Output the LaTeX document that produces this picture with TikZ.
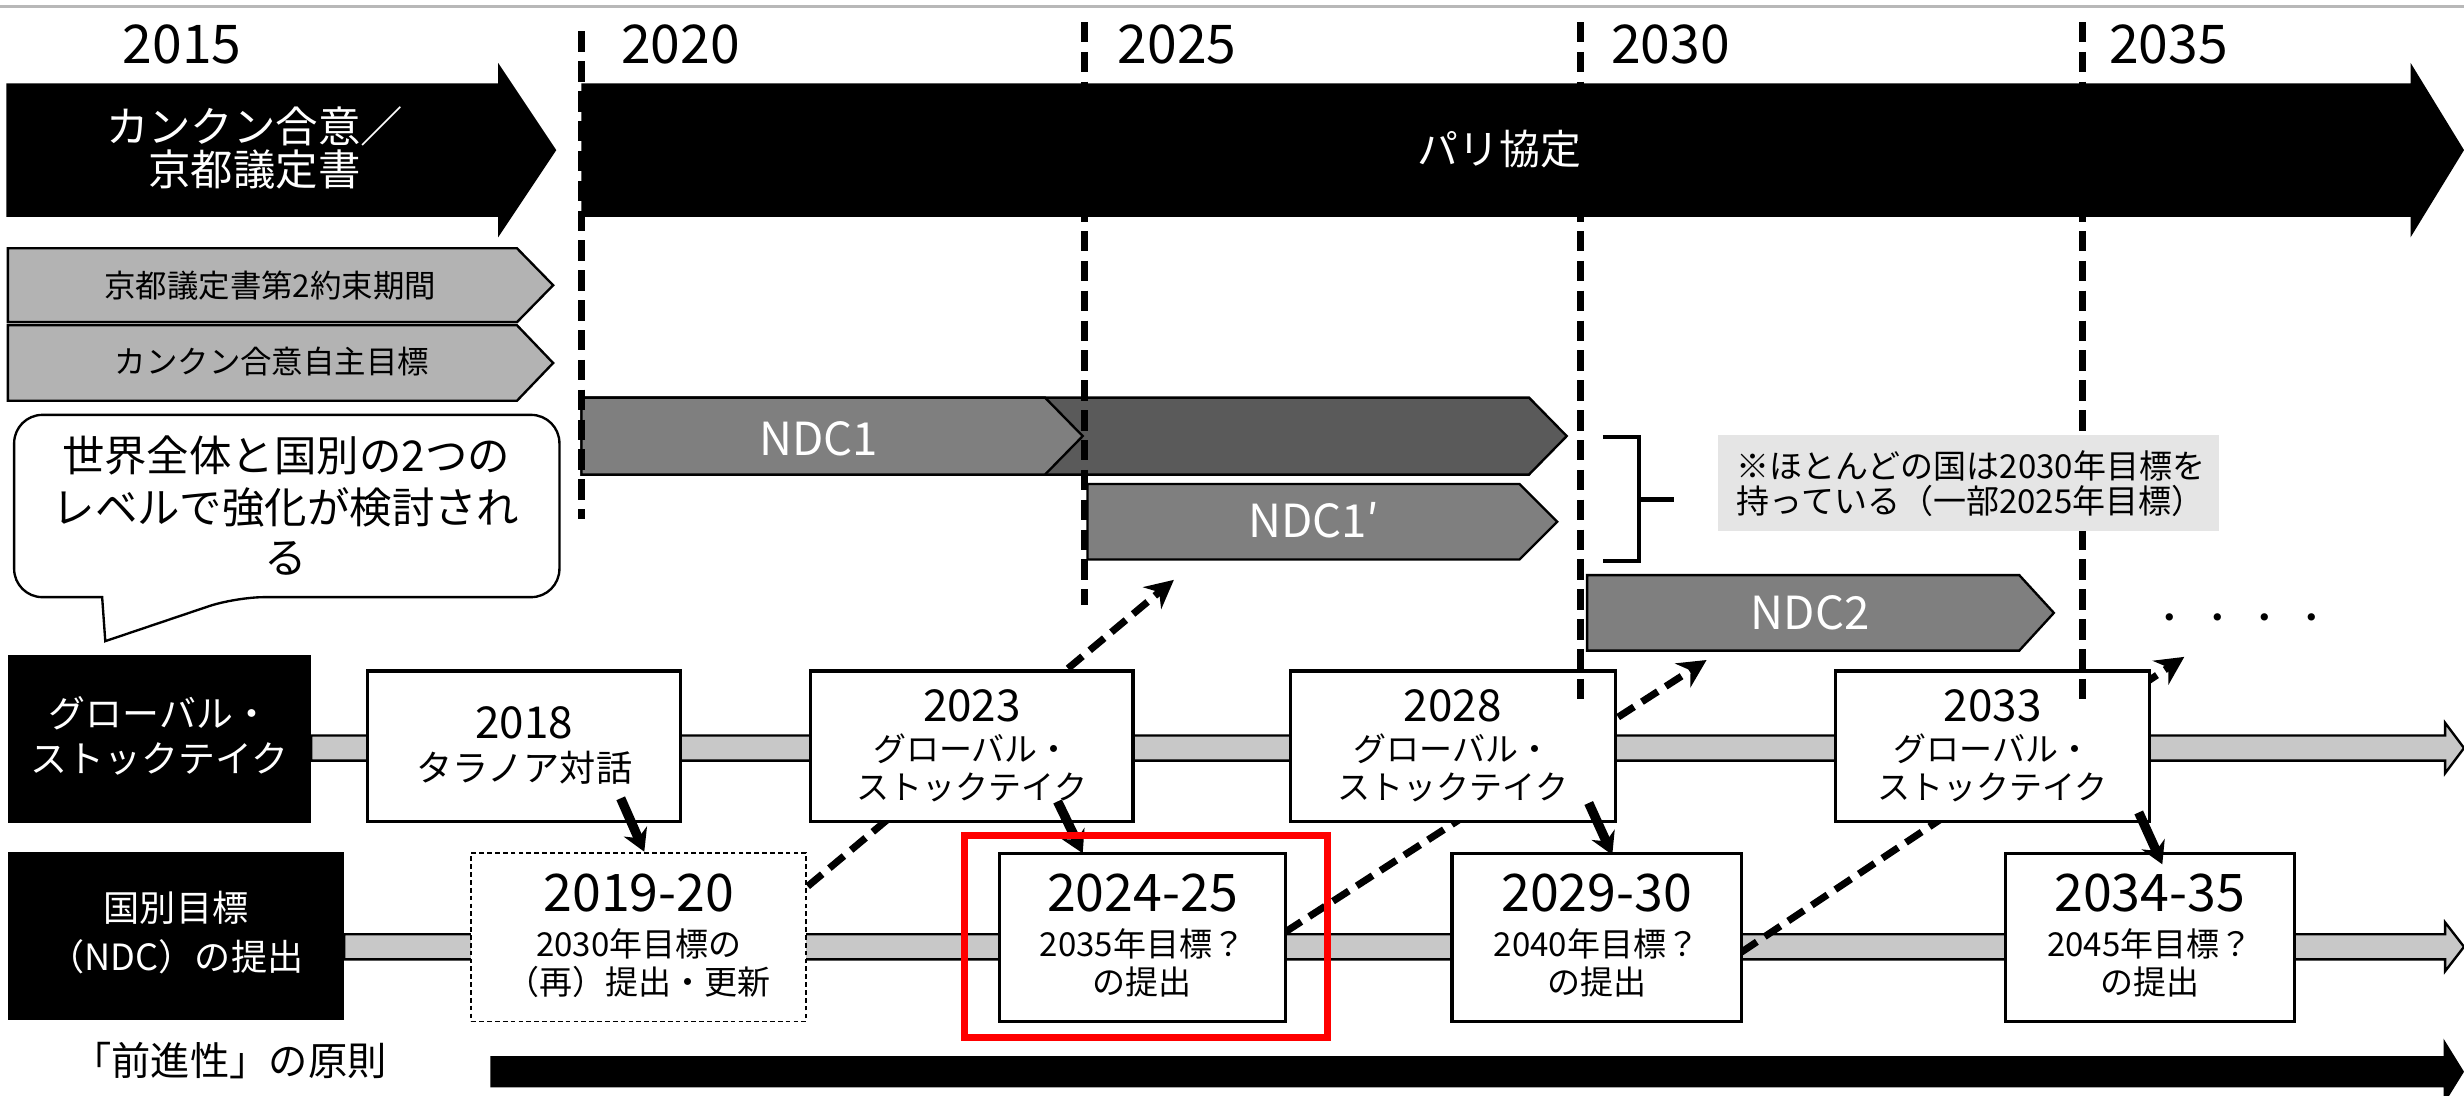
\documentclass[tikz,border=0pt]{standalone}
\usepackage{fontspec}
\setmainfont{Noto Sans CJK JP}
\usetikzlibrary{arrows.meta}
\definecolor{topline}{HTML}{B8B8B8}
\definecolor{kgray}{HTML}{B3B3B3}
\definecolor{ndclight}{HTML}{7F7F7F}
\definecolor{ndcdark}{HTML}{5A5A5A}
\definecolor{bandgray}{HTML}{C8C8C8}
\definecolor{notegray}{HTML}{E5E5E5}
\definecolor{hired}{HTML}{FF0000}
\newcommand{\tx}[6][base]{\node[anchor=#1,inner sep=0pt,font=\fontsize{#3}{#3}\selectfont] (#2) at (#4,{#5+0.37*#3}) {#6};}
\tikzset{
  wbox/.style={draw=black, fill=white, line width=2pt, inner sep=0pt},
  dbox/.style={draw=black, fill=white, line width=1.2pt, dash pattern=on 3pt off 2pt, inner sep=0pt},
  lbox/.style={fill=black, inner sep=0pt},
  vdash/.style={line width=4.5pt, dash pattern=on 13pt off 6pt},
  darr/.style={line width=4.5pt, dash pattern=on 12pt off 6pt, -{Stealth[length=18pt,width=18pt]}},
  sarr/.style={line width=6pt, -{Stealth[length=14pt,width=16pt]}},
  pent/.style={draw=black, line width=1.5pt},
  bandst/.style={fill=bandgray, draw=black, line width=1.5pt},
}
\begin{document}
\begin{tikzpicture}[x=1pt,y=-1pt]
\useasboundingbox (0,0) rectangle (1568,697);
% top line
\draw[topline, line width=2pt] (0,4) -- (1568,4);
% years
\tx{y2015}{34}{116}{28}{2015}
\tx{y2020}{34}{433}{28}{2020}
\tx{y2025}{34}{749}{28}{2025}
\tx{y2030}{34}{1063}{28}{2030}
\tx{y2035}{34}{1380}{28}{2035}
% big arrows
\fill[black] (4,53) -- (317,53) -- (317,40) -- (354,95.5) -- (317,151) -- (317,138) -- (4,138) -- cycle;
\fill[black] (370,53) -- (1534,53) -- (1534,40) -- (1568,95.5) -- (1534,151) -- (1534,138) -- (370,138) -- cycle;
\tx{kc1}{27}{162}{81}{\color{white}カンクン合意／}
\tx{kc2}{27}{162}{108}{\color{white}京都議定書}
\tx{paris}{26}{954}{95}{\color{white}パリ協定}
% gray arrows
\draw[pent, fill=kgray] (5,158) -- (329,158) -- (352,181.5) -- (329,205) -- (5,205) -- cycle;
\draw[pent, fill=kgray] (5,207) -- (329,207) -- (352,231) -- (329,255) -- (5,255) -- cycle;
\tx{kp2}{20}{172}{182}{京都議定書第2約束期間}
\tx{cancun}{20}{173}{230}{カンクン合意自主目標}
% bubble
\draw[line width=1.5pt, fill=white] (65,380) [rounded corners=18pt] -- (9,380) -- (9,264) -- (356,264) -- (356,380) -- (150,380) [sharp corners] -- (67,408) -- cycle;
\tx{bub1}{27}{182}{290}{世界全体と国別の2つの}
\tx{bub2}{27}{182}{323}{レベルで強化が検討され}
\tx{bub3}{27}{182}{355}{る}
% NDC arrows
\draw[pent, fill=ndcdark] (370,253) -- (973,253) -- (997,277.5) -- (973,302) -- (370,302) -- cycle;
\draw[pent, fill=ndclight] (370,253) -- (665,253) -- (689,277.5) -- (665,302) -- (370,302) -- cycle;
\draw[pent, fill=ndclight] (692,308) -- (967,308) -- (991,332) -- (967,356) -- (692,356) -- cycle;
\draw[pent, fill=ndclight] (1010,366) -- (1285,366) -- (1307,390) -- (1285,414) -- (1010,414) -- cycle;
\tx{ndc1}{29}{521}{279}{\color{white}NDC1}
\tx{ndc1p}{29}{836}{331}{\color{white}NDC1′}
\tx{ndc2}{29}{1152}{390}{\color{white}NDC2}
% bracket
\draw[line width=3pt] (1020,278) -- (1043,278) -- (1043,357) -- (1020,357);
\draw[line width=3pt] (1043,318) -- (1065,318);
\tx{dots}{22}{1426}{393}{・\kern8pt・\kern8pt・\kern8pt・}
% bands
\draw[bandst] (198,468) -- (1556,468) -- (1556,460) -- (1568,476) -- (1556,492) -- (1556,484) -- (198,484) -- cycle;
\draw[bandst] (219,594.5) -- (1556,594.5) -- (1556,587) -- (1568,602.5) -- (1556,618) -- (1556,610.5) -- (219,610.5) -- cycle;
% dashed diagonal arrows (behind boxes)
\coordinate (a1s) at (514,564);
\coordinate (a1e) at (747,369);
\coordinate (a2s) at (818,593);
\coordinate (a2e) at (1086,420);
\coordinate (a3s) at (1108,606);
\coordinate (a3e) at (1390,418);
\draw[darr] (a1s) -- (a1e);
\draw[darr] (a2s) -- (a2e);
\draw[darr] (a3s) -- (a3e);
% label boxes
\node[lbox, minimum width=193pt, minimum height=107pt] (lab1) at (101.5,470.5) {};
\node[lbox, minimum width=214pt, minimum height=107pt] (lab2) at (112,595.5) {};
\tx{lab1a}{23.5}{101.5}{454}{\color{white}グローバル・}
\tx{lab1b}{23.5}{101.5}{483}{\color{white}ストックテイク}
\tx{lab2a}{23}{112}{578}{\color{white}国別目標}
\tx{lab2b}{23}{112}{609}{\color{white}（NDC）の提出}
% row 1 boxes
\node[wbox, minimum width=199pt, minimum height=96pt] (b2018) at (333.5,475) {};
\node[wbox, minimum width=205pt, minimum height=96pt] (b2023) at (618.5,475) {};
\node[wbox, minimum width=207pt, minimum height=96pt] (b2028) at (924.5,475) {};
\node[wbox, minimum width=200pt, minimum height=96pt] (b2033) at (1268,475) {};
\tx{t2018a}{28}{333.5}{459.5}{2018}
\tx{t2018b}{23}{333.5}{489}{タラノア対話}
\tx{t2023a}{28}{618.5}{449}{2023}
\tx{t2023b}{21}{618.5}{477}{グローバル・}
\tx{t2023c}{21}{618.5}{501}{ストックテイク}
\tx{t2028a}{28}{924.5}{449}{2028}
\tx{t2028b}{21}{924.5}{477}{グローバル・}
\tx{t2028c}{21}{924.5}{501}{ストックテイク}
\tx{t2033a}{28}{1268}{449}{2033}
\tx{t2033b}{21}{1268}{477}{グローバル・}
\tx{t2033c}{21}{1268}{501}{ストックテイク}
% row 2 boxes
\node[dbox, minimum width=213pt, minimum height=107pt] (b1920) at (406.5,596.5) {};
\node[wbox, minimum width=182pt, minimum height=107pt] (b2425) at (727,596.5) {};
\node[wbox, minimum width=184pt, minimum height=107pt] (b2930) at (1016,596.5) {};
\node[wbox, minimum width=184pt, minimum height=107pt] (b3435) at (1368,596.5) {};
\tx{t1920a}{33}{406.5}{568}{2019-20}
\tx{t1920b}{21}{406.5}{601}{2030年目標の}
\tx{t1920c}{21}{406.5}{625}{（再）提出・更新}
\tx{t2425a}{33}{727}{568}{2024-25}
\tx{t2425b}{21}{727}{601}{2035年目標？}
\tx{t2425c}{21}{727}{625}{の提出}
\tx{t2930a}{33}{1016}{568}{2029-30}
\tx{t2930b}{21}{1016}{601}{2040年目標？}
\tx{t2930c}{21}{1016}{625}{の提出}
\tx{t3435a}{33}{1368}{568}{2034-35}
\tx{t3435b}{21}{1368}{601}{2045年目標？}
\tx{t3435c}{21}{1368}{625}{の提出}
% vertical dashed year lines
\coordinate (v20a) at (370,20);  \coordinate (v20b) at (370,330);
\coordinate (v25a) at (690,14);  \coordinate (v25b) at (690,385);
\coordinate (v30a) at (1006,14); \coordinate (v30b) at (1006,447);
\coordinate (v35a) at (1325,14); \coordinate (v35b) at (1325,447);
\draw[vdash] (v20a) -- (v20b);
\draw[vdash] (v25a) -- (v25b);
\draw[vdash] (v30a) -- (v30b);
\draw[vdash] (v35a) -- (v35b);
% note box (covers the 2035 line)
\node[fill=notegray, minimum width=319pt, minimum height=61pt, inner sep=0pt] (notebox) at (1252.5,307.5) {};
\tx[base west]{note1}{21}{1105}{297}{※ほとんどの国は2030年目標を}
\tx[base west]{note2}{21}{1105}{319}{持っている（一部2025年目標）}
% solid arrows
\coordinate (s1s) at (395,508);  \coordinate (s1e) at (410,542);
\coordinate (s2s) at (673,510);  \coordinate (s2e) at (689,543);
\coordinate (s3s) at (1011,511); \coordinate (s3e) at (1026,544);
\coordinate (s4s) at (1361,517); \coordinate (s4e) at (1376,550);
\draw[sarr] (s1s) -- (s1e);
\draw[sarr] (s2s) -- (s2e);
\draw[sarr] (s3s) -- (s3e);
\draw[sarr] (s4s) -- (s4e);
% red highlight
\node[draw=hired, line width=4.5pt, minimum width=231pt, minimum height=129pt, inner sep=0pt] (hl) at (729,596) {};
% bottom
\tx{principle}{25}{146}{675}{「前進性」の原則}
\fill[black] (312,672) -- (1555,672) -- (1555,661) -- (1568,682) -- (1555,703) -- (1555,692) -- (312,692) -- cycle;
\end{tikzpicture}
\end{document}
